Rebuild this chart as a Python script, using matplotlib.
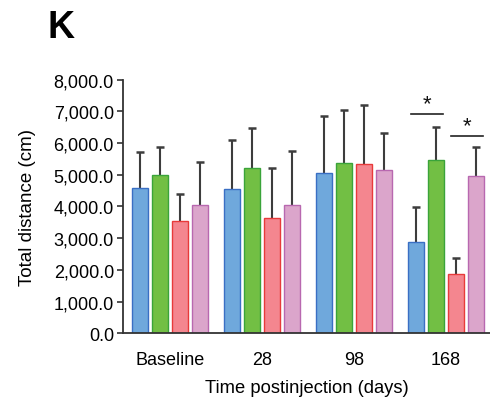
import matplotlib
matplotlib.use("Agg")
import matplotlib.pyplot as plt
import numpy as np

plt.rcParams['font.family'] = ['Liberation Sans', 'DejaVu Sans']

categories = ["Baseline", "28", "98", "168"]
series_names = ["Group 1", "Group 2", "Group 3", "Group 4"]
means = [
    [4580, 4550, 5050, 2890],
    [5000, 5210, 5370, 5480],
    [3530, 3630, 5340, 1870],
    [4050, 4050, 5160, 4960],
]
errors_upper = [
    [1130, 1550, 1800, 1100],
    [870, 1260, 1680, 1040],
    [860, 1570, 1870, 520],
    [1360, 1690, 1160, 930],
]
face_colors = ["#6fa8dc", "#72bf44", "#f4868f", "#dba5cb"]
edge_colors = ["#3a6fc4", "#3aa43a", "#e83a3a", "#b868b0"]
yticks = [0, 1000, 2000, 3000, 4000, 5000, 6000, 7000, 8000]
# significance: (group index, series a, series b, y)
sig = [(3, 0, 1, 6910), (3, 2, 3, 6210)]

fig = plt.figure(figsize=(4.9, 4.02), dpi=100)
ax = fig.add_axes([0.251, 0.1684, 0.749, 0.6309])

x = np.arange(len(categories))
step = 0.217
width = 0.174
for i in range(len(series_names)):
    pos = x + (i - 1.5) * step
    m = np.array(means[i])
    e = np.array(errors_upper[i])
    ax.bar(pos, m, width=width, color=face_colors[i],
           edgecolor=edge_colors[i], linewidth=1.0, zorder=2)
    ax.vlines(pos, m, m + e, color='#3d3d3d', lw=1.5, zorder=1)
    ax.plot(pos, m + e, linestyle='none', marker='_', markersize=6,
            markeredgewidth=1.8, color='#3d3d3d', zorder=1)

for g, a, b, yv in sig:
    xa = g + (a - 1.5) * step - 0.05
    xb = g + (b - 1.5) * step + 0.08
    ax.plot([xa, xb], [yv, yv], color='#222222', lw=1.2, clip_on=False)
    ax.text((xa + xb) / 2, yv + 10, '*', ha='center', va='bottom',
            fontsize=16, color='#111111')

ax.set_xlim(-0.511, 3.478)
ax.set_ylim(0, 8000)
ax.set_yticks(yticks)
ax.set_yticklabels([f"{v:,.1f}" for v in yticks], fontsize=13)
ax.set_xticks(x)
ax.set_xticklabels(categories, fontsize=13)
ax.tick_params(axis='x', length=0, pad=13)
ax.tick_params(axis='y', length=4.5, width=1.2, color='#333333', pad=2)
for s in ['top', 'right']:
    ax.spines[s].set_visible(False)
for s in ['left', 'bottom']:
    ax.spines[s].set_linewidth(1.3)
    ax.spines[s].set_color('#333333')
ax.set_ylabel("Total distance (cm)", fontsize=13.5, labelpad=13)
ax.set_xlabel("Time postinjection (days)", fontsize=13.2, labelpad=8)

fig.text(0.096, 0.905, "K", fontsize=27, fontweight='bold', ha='left', va='baseline')

fig.savefig("out.png", dpi=100)
